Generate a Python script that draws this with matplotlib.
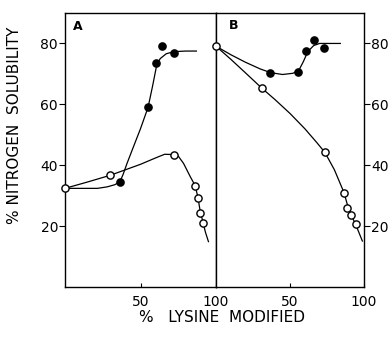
import matplotlib
matplotlib.use("Agg")
import matplotlib.pyplot as plt

# Panel A - measured points
a_open_x = [0, 30, 72, 86.2, 88.4, 89.2, 91.6]
a_open_y = [32.4, 36.7, 43.5, 33.3, 29.1, 24.3, 20.9]
a_fill_x = [36.4, 55, 60.5, 64, 72]
a_fill_y = [34.5, 59, 73.6, 79.1, 77.0]

# Panel A - hand drawn curves
a_open_cx = [0, 15, 30, 40, 50, 60, 66, 72, 75, 78.5, 83, 86.2, 88, 89.5, 91.5, 93, 95]
a_open_cy = [32.4, 34.5, 36.7, 38.5, 40.3, 42.4, 43.6, 43.5, 43.0, 40.6, 36.2, 33.3, 29.5, 25.0, 21.0, 18.0, 14.9]
a_fill_cx = [0, 10, 21.5, 28, 33, 36.4, 38.5, 41, 44.5, 50, 55, 58, 60.5, 63, 67, 72, 80, 87]
a_fill_cy = [32.4, 32.4, 32.4, 32.9, 33.6, 34.6, 37.0, 40.5, 45.0, 52.0, 59.0, 66.0, 72.3, 75.0, 76.6, 77.3, 77.5, 77.5]

# Panel B - measured points
b_open_x = [0, 31, 73.6, 86.5, 88.3, 91.2, 94.4]
b_open_y = [79.1, 65.3, 44.2, 31.0, 26.1, 23.8, 20.6]
b_fill_x = [36.6, 55.6, 60.8, 65.9, 73]
b_fill_y = [70.2, 70.7, 77.4, 81.2, 78.6]

# Panel B - hand drawn curves
b_open_cx = [0, 10, 20, 31, 40, 50, 60, 68, 73.6, 80, 86.5, 88.5, 91, 94.4, 98.9]
b_open_cy = [79.1, 74.8, 70.3, 65.3, 61.5, 57.0, 52.0, 47.5, 44.2, 38.5, 31.0, 27.5, 24.0, 20.5, 15.1]
b_fill_cx = [0, 10, 20, 30, 37, 45, 52, 56, 59, 62, 66, 70, 84]
b_fill_cy = [79.1, 76.3, 73.8, 71.6, 70.4, 69.8, 70.2, 71.2, 74.0, 77.3, 79.3, 80.0, 80.0]

yticks = [20, 40, 60, 80]

fig = plt.figure(figsize=(3.92, 3.37), dpi=100)
axA = fig.add_axes([65 / 392, 1 - 287 / 337, 151 / 392, 274 / 337])
axB = fig.add_axes([216 / 392, 1 - 287 / 337, 148 / 392, 274 / 337])

lw = 0.9
ms = 5.2

for ax, ocx, ocy, fcx, fcy, ox, oy, fx, fy in [
    (axA, a_open_cx, a_open_cy, a_fill_cx, a_fill_cy, a_open_x, a_open_y, a_fill_x, a_fill_y),
    (axB, b_open_cx, b_open_cy, b_fill_cx, b_fill_cy, b_open_x, b_open_y, b_fill_x, b_fill_y),
]:
    ax.plot(ocx, ocy, color="black", lw=lw, zorder=2)
    ax.plot(fcx, fcy, color="black", lw=lw, zorder=2)
    ax.plot(ox, oy, "o", ms=ms, mfc="white", mec="black", mew=1.0, zorder=3, clip_on=False)
    ax.plot(fx, fy, "o", ms=ms, mfc="black", mec="black", zorder=3, clip_on=False)
    ax.set_xlim(0, 100)
    ax.set_ylim(0, 90)
    ax.set_xticks([50, 100])
    ax.set_xticklabels(["50", "100"], fontsize=10)
    ax.tick_params(axis="x", direction="in", length=3, width=0.8, pad=6)
    for s in ax.spines.values():
        s.set_linewidth(1.0)

axA.set_yticks(yticks)
axA.set_yticklabels([str(v) for v in yticks], fontsize=10)
axA.tick_params(axis="y", direction="out", length=4, width=0.8, pad=1)

axB.yaxis.tick_right()
axB.set_yticks(yticks)
axB.set_yticklabels([str(v) for v in yticks], fontsize=10)
axB.tick_params(axis="y", direction="out", length=4, width=0.8, pad=1)

axA.text(0.05, 0.952, "A", transform=axA.transAxes, fontsize=9, fontweight="bold", va="center", ha="left")
axB.text(0.085, 0.955, "B", transform=axB.transAxes, fontsize=9, fontweight="bold", va="center", ha="left")

fig.text(15 / 392, 1 - 125 / 337, "% NITROGEN  SOLUBILITY", rotation=90, fontsize=11, va="center", ha="center")
fig.text(222 / 392, 1 - 310 / 337, "%   LYSINE  MODIFIED", fontsize=11, va="top", ha="center")

fig.savefig("out.png", dpi=100)
